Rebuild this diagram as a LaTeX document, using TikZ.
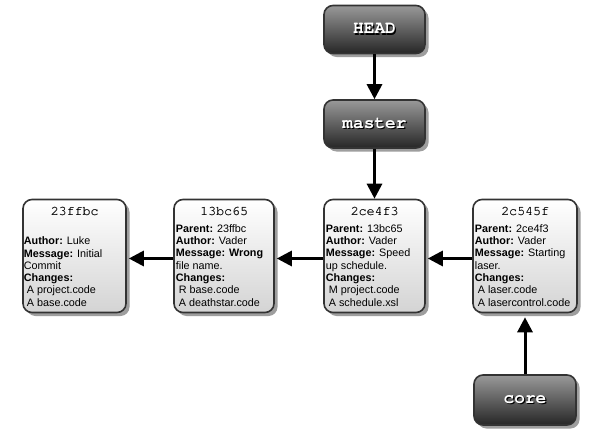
\documentclass[tikz,border=0pt]{standalone}
\usepackage[T1]{fontenc}
\usepackage{fontspec}
\setmainfont{Liberation Sans}
\newcommand\courierfont{\fontencoding{T1}\fontfamily{pcr}\selectfont}
\usetikzlibrary{arrows.meta,shadows,calc}
\newcommand\bodyline[1]{\hbox{#1}}
\newcommand\shadowed[1]{\makebox[0pt][l]{\kern1.2pt\raisebox{-1.2pt}{\color{black}#1}}#1}
\newcommand\heavier[1]{\makebox[0pt][l]{\kern0.45pt #1}#1}
\tikzset{
  boxshadow/.style={drop shadow={shadow xshift=3.5pt, shadow yshift=-3.5pt, fill=black!38, opacity=1}},
  commit/.style={draw=black!80, line width=1.6pt, rounded corners=9pt,
    top color=white, bottom color=black!17, minimum height=113pt, inner sep=0pt, boxshadow},
  refbox/.style={draw=black!80, line width=1.6pt, rounded corners=9pt,
    top color=black!40, bottom color=black!85, minimum width=101pt, minimum height=48pt,
    inner sep=0pt, boxshadow, text=white, font=\courierfont\bfseries\fontsize{17.8}{20}\selectfont},
  ctitle/.style={anchor=base, inner sep=0pt, font=\courierfont\fontsize{13.3}{15}\selectfont},
  cbody/.style={anchor=base west, inner sep=0pt, font=\fontsize{10.8}{12.3}\selectfont},
  link/.style={line width=3pt, -{Triangle[length=15pt,width=15pt]}},
}
\begin{document}
\begin{tikzpicture}[x=1pt,y=-1pt]
\fill[white] (0,0) rectangle (595,447);
\useasboundingbox (0,0) rectangle (595,447);

% refs
\node[refbox] (head) at (374.5,29.5) {\shadowed{HEAD}};
\node[refbox] (master) at (374.5,124) {\shadowed{master}};
\node[refbox, minimum width=102pt, minimum height=50pt] (core) at (525,400) {\shadowed{core}};

% commits
\node[commit, minimum width=103pt] (c1) at (74.5,256) {};
\node[commit, minimum width=100pt] (c2) at (224,256) {};
\node[commit, minimum width=101pt] (c3) at (374.5,256) {};
\node[commit, minimum width=104pt] (c4) at (525,256) {};

\node[ctitle] (t1) at ($(c1.north)+(0,17)$) {\heavier{23ffbc}};
\node[ctitle] (t2) at ($(c2.north)+(0,17)$) {\heavier{13bc65}};
\node[ctitle] (t3) at ($(c3.north)+(0,17)$) {\heavier{2ce4f3}};
\node[ctitle] (t4) at ($(c4.north)+(0,17)$) {\heavier{2c545f}};

\node[cbody] (b1) at ($(c1.north west)+(1.5,46)$) {\vtop{%
  \bodyline{\textbf{Author:} Luke}%
  \bodyline{\textbf{Message:} Initial}%
  \bodyline{Commit}%
  \bodyline{\textbf{Changes:}}%
  \bodyline{\kern3pt A project.code}%
  \bodyline{\kern3pt A base.code}}};
\node[cbody] (b2) at ($(c2.north west)+(2.5,33.5)$) {\vtop{%
  \bodyline{\textbf{Parent:} 23ffbc}%
  \bodyline{\textbf{Author:} Vader}%
  \bodyline{\textbf{Message: Wrong}}%
  \bodyline{file name.}%
  \bodyline{\textbf{Changes:}}%
  \bodyline{\kern3pt R base.code}%
  \bodyline{\kern3pt A deathstar.code}}};
\node[cbody] (b3) at ($(c3.north west)+(2.5,33.5)$) {\vtop{%
  \bodyline{\textbf{Parent:} 13bc65}%
  \bodyline{\textbf{Author:} Vader}%
  \bodyline{\textbf{Message:} Speed}%
  \bodyline{up schedule.}%
  \bodyline{\textbf{Changes:}}%
  \bodyline{\kern3pt M project.code}%
  \bodyline{\kern3pt A schedule.xsl}}};
\node[cbody] (b4) at ($(c4.north west)+(2.5,33.5)$) {\vtop{%
  \bodyline{\textbf{Parent:} 2ce4f3}%
  \bodyline{\textbf{Author:} Vader}%
  \bodyline{\textbf{Message:} Starting}%
  \bodyline{laser.}%
  \bodyline{\textbf{Changes:}}%
  \bodyline{\kern3pt A laser.code}%
  \bodyline{\kern3pt A lasercontrol.code}}};

% connectors
\draw[link] (head) -- (master);
\draw[link] (master) -- (c3);
\draw[link] ($(c3.west)+(0,2.5)$) -- ($(c2.east)+(2,2.5)$);
\draw[link] ($(c2.west)+(0,2.5)$) -- ($(c1.east)+(2,2.5)$);
\draw[link] ($(c4.west)+(0,2.5)$) -- ($(c3.east)+(2,2.5)$);
\draw[link] (core) -- ($(c4.south)+(0,4)$);
\end{tikzpicture}
\end{document}
